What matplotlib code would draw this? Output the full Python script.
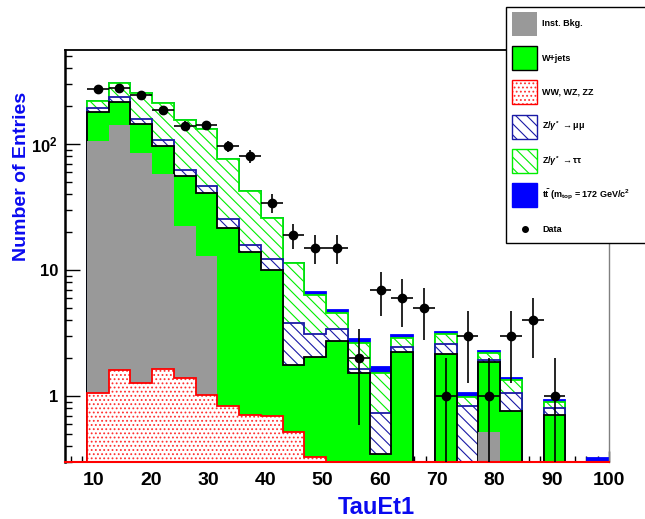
import numpy as np
import matplotlib
matplotlib.use("Agg")
import matplotlib.pyplot as plt
from matplotlib.patches import Rectangle
from matplotlib.ticker import FixedLocator, FixedFormatter, NullFormatter, LogLocator, MultipleLocator

plt.rcParams['font.family'] = ['Liberation Sans', 'DejaVu Sans']
plt.rcParams['font.weight'] = 'bold'
plt.rcParams['mathtext.fontset'] = 'custom'
plt.rcParams['mathtext.rm'] = 'Liberation Sans'
plt.rcParams['mathtext.it'] = 'Liberation Sans:italic'
plt.rcParams['mathtext.bf'] = 'Liberation Sans:bold'
plt.rcParams['hatch.linewidth'] = 0.8

# TauEt1 binning
x_lo, x_hi, nbins = 5.0, 100.0, 25

# stack components, bottom to top
diboson = [0, 1.05, 1.6, 1.26, 1.63, 1.38, 1.02, 0.84, 0.71, 0.69, 0.52, 0.33, 0,
           0, 0, 0, 0, 0, 0, 0, 0, 0, 0, 0, 0]
inst = [0, 105.1, 139.9, 83.1, 56.2, 21.1, 11.9, 0, 0, 0, 0, 0, 0,
        0, 0, 0, 0, 0, 0, 0.52, 0, 0, 0, 0, 0]
wjets = [0, 72.3, 75.1, 58.9, 39.2, 33.2, 27.7, 20.9, 13.3, 9.3, 1.24, 1.72, 2.73,
         1.53, 0.35, 2.25, 0, 2.14, 0, 1.33, 0.76, 0, 0.71, 0, 0]
zmumu = [0, 15.5, 20.4, 14.6, 11.2, 6.8, 5.6, 3.5, 1.8, 2.2, 2.02, 1.05, 0.65,
         0.10, 0.38, 0.21, 0, 0.45, 0.84, 0.08, 0.29, 0, 0.09, 0, 0]
ztautau = [0, 26.6, 69.6, 97.5, 102.3, 91.7, 84.6, 50.4, 26.8, 13.5, 7.6, 3.23, 1.2,
           0.99, 0.80, 0.44, 0, 0.51, 0.15, 0.25, 0.29, 0, 0.10, 0, 0]
ttbar = [0, 0, 0, 0, 0, 0, 0, 0, 0, 0, 0, 0.32, 0.23,
         0.21, 0.16, 0.13, 0, 0.12, 0.07, 0.08, 0.06, 0, 0.03, 0, 0.32]
data = [0, 273, 280, 243, 186, 140, 141, 96, 80, 34, 19, 15, 15,
        2, 7, 6, 5, 1, 3, 1, 3, 4, 1, 0, 0]

legend_labels = ['Inst. Bkg.', 'W+jets', 'WW, WZ, ZZ',
                 r'Z/$\gamma^{*}$ $\rightarrow \mathrm{\mu\mu}$',
                 r'Z/$\gamma^{*}$ $\rightarrow \mathrm{\tau\tau}$',
                 r't$\bar{\mathrm{t}}$ (m$_{\mathrm{top}}$ = 172 GeV/c$^{2}$',
                 'Data']

edges = np.linspace(x_lo, x_hi, nbins + 1)
width = edges[1] - edges[0]
centers = 0.5 * (edges[:-1] + edges[1:])
floor = 1e-3

# style: facecolor, hatch, hatch colour, outline colour
styles = [
    ('white', '....', '#ff3030', '#ff0000'),     # WW
    ('#999999', None, '#999999', None),          # inst
    ('#00ff00', None, '#00ff00', 'black'),       # W+jets
    ('white', '\\\\\\', '#1a1aa6', '#1a1aa6'),   # Z->mumu
    ('white', '\\\\\\', '#00ee00', '#00ee00'),   # Z->tautau
    ('#0000ff', None, '#0000ff', '#0000ff'),     # ttbar
]

fig = plt.figure(figsize=(6.45, 5.19), dpi=100)
ax = fig.add_axes([65/645, 1-462/519, 544/645, 412/519])
ax.set_yscale('log')

cum = np.cumsum(np.array([diboson, inst, wjets, zmumu, ztautau, ttbar], float), axis=0)
for i in reversed(range(len(styles))):
    fc, h, hc, ec = styles[i]
    vals = np.maximum(cum[i], floor)
    ax.stairs(vals, edges, baseline=floor, fill=True, facecolor=fc,
              edgecolor=hc, hatch=h, linewidth=0, zorder=1)
    if ec is not None:
        ax.stairs(vals, edges, baseline=floor, fill=False, color=ec, lw=1.3, zorder=1)

d = np.array(data, float)
m = d > 0
lo = d[m] - np.maximum(d[m] - np.sqrt(d[m]), floor)
ax.errorbar(centers[m], d[m], yerr=[lo, np.sqrt(d[m])], xerr=width/2, fmt='o',
            color='black', ms=6, lw=1.2, capsize=0, zorder=5)

ax.set_xlim(x_lo, x_hi)
ax.set_ylim(0.3, 557)
ax.set_axisbelow(True)

ax.yaxis.set_major_locator(FixedLocator([1, 10, 100]))
ax.yaxis.set_major_formatter(FixedFormatter(['1', '10', r'$\mathbf{10^{2}}$']))
ax.yaxis.set_minor_locator(LogLocator(base=10, subs=np.arange(2, 10)))
ax.yaxis.set_minor_formatter(NullFormatter())
ax.xaxis.set_major_locator(MultipleLocator(10))
ax.xaxis.set_minor_locator(MultipleLocator(2))
ax.tick_params(axis='y', which='major', direction='in', length=11, width=1,
               labelsize=12, pad=5, right=False)
ax.tick_params(axis='y', which='minor', direction='in', length=5, width=1, right=False)
ax.tick_params(axis='x', which='major', direction='in', length=8, width=1,
               labelsize=14, pad=7, top=False)
ax.tick_params(axis='x', which='minor', direction='in', length=4, width=1, top=False)
for lab in ax.get_xticklabels() + ax.get_yticklabels():
    lab.set_fontweight('bold')

ax.spines['left'].set_linewidth(1.8)
ax.spines['top'].set_linewidth(1.3)
ax.spines['right'].set_color('#808080')
ax.spines['right'].set_linewidth(1)
ax.spines['bottom'].set_color('#ff0000')
ax.spines['bottom'].set_linewidth(1.5)

fig.text(376/645, 1-508/519, 'TauEt1', color='#0a0af0', fontsize=17,
         fontweight='bold', ha='center', va='center')
fig.text(22/645, 1-176/519, 'Number of Entries', color='#0a0af0', fontsize=14,
         fontweight='bold', rotation=90, ha='center', va='center')

# legend box drawn in pixel coordinates
lax = fig.add_axes([0, 0, 1, 1])
lax.set_xlim(0, 645)
lax.set_ylim(519, 0)
lax.axis('off')
lax.add_patch(Rectangle((506, 7), 200, 236, facecolor='white', edgecolor='black', lw=1))
leg_styles = [styles[1], styles[2], styles[0], styles[3], styles[4], styles[5]]
for k, (fc, h, hc, ec) in enumerate(leg_styles):
    yc = 24 + 34.2 * k
    lax.add_patch(Rectangle((512, yc - 12), 25, 24, facecolor=fc, edgecolor=hc,
                            hatch=h, lw=0))
    if ec is not None:
        lax.add_patch(Rectangle((512, yc - 12), 25, 24, fill=False, edgecolor=ec, lw=1))
    lax.text(542, yc, legend_labels[k], fontsize=6.5, fontweight='bold', va='center')
lax.plot([525], [229], 'o', color='black', ms=4)
lax.text(542, 229, legend_labels[6], fontsize=6.5, fontweight='bold', va='center')

fig.savefig('out.png', dpi=100)
